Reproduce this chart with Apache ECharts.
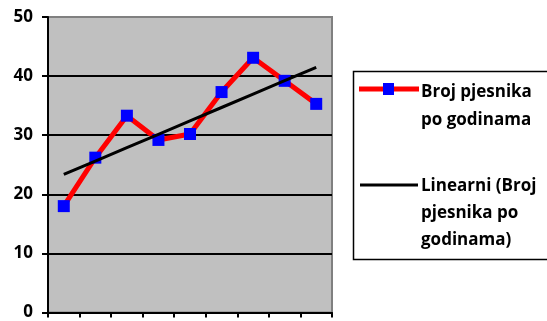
<!DOCTYPE html>
<html><head><meta charset="utf-8">
<script src="https://cdn.jsdelivr.net/npm/echarts@6/dist/echarts.min.js"></script>
<style>html,body{margin:0;padding:0;background:#fff}#c{width:547px;height:321px}</style>
</head><body><div id="c"></div>
<script>
var categories = ['1','2','3','4','5','6','7','8','9'];
var poetCounts = [18, 26.2, 33.3, 29.2, 30.2, 37.3, 43.1, 39.2, 35.3];
var yTicks = [0, 10, 20, 30, 40, 50];
var seriesName = 'Broj pjesnika po godinama';
var trendName = 'Linearni (Broj pjesnika po godinama)';

// least-squares linear trend computed from the data
var n = poetCounts.length, sx = 0, sy = 0, sxy = 0, sxx = 0;
poetCounts.forEach(function (v, i) { var x = i + 1; sx += x; sy += v; sxy += x * v; sxx += x * x; });
var slope = (n * sxy - sx * sy) / (n * sxx - sx * sx);
var icpt = (sy - slope * sx) / n;
var trend = poetCounts.map(function (v, i) { return +(icpt + slope * (i + 1)).toFixed(3); });

var FONT = '"Open Sans"';
var chart = echarts.init(document.getElementById('c'), null, {renderer: 'canvas'});
chart.setOption({
  animation: false,
  grid: {left: 48, right: 215, top: 17, bottom: 8, show: true, backgroundColor: '#c0c0c0', borderColor: '#808080', borderWidth: 2},
  xAxis: {
    type: 'category', data: categories, boundaryGap: true,
    axisLine: {lineStyle: {color: '#000', width: 2}},
    axisTick: {show: true, length: 5, lineStyle: {color: '#000', width: 2}, alignWithLabel: false},
    axisLabel: {show: false}, splitLine: {show: false}
  },
  yAxis: {
    type: 'value', min: yTicks[0], max: yTicks[yTicks.length - 1], interval: 10,
    axisLine: {show: true, lineStyle: {color: '#000', width: 2}},
    axisTick: {show: true, length: 6, lineStyle: {color: '#000', width: 2}},
    axisLabel: {color: '#000', fontFamily: FONT, fontWeight: 'bold', fontSize: 17, margin: 15},
    splitLine: {show: true, lineStyle: {color: ['#000', '#000', '#000', '#000', '#000', '#808080'], width: 2}}
  },
  series: [
    {name: seriesName, type: 'line', data: poetCounts, symbol: 'rect', symbolSize: 12,
     lineStyle: {color: '#ff0000', width: 5}, itemStyle: {color: '#0000ff'}, z: 3},
    {name: trendName, type: 'line', data: trend, symbol: 'none',
     lineStyle: {color: '#000', width: 3}, z: 4}
  ],
  graphic: [
    {type: 'rect', shape: {x: 353.5, y: 71.5, width: 200, height: 188}, style: {fill: '#fff', stroke: '#000', lineWidth: 1.5}},
    {type: 'line', shape: {x1: 359, y1: 89, x2: 419, y2: 89}, style: {stroke: '#ff0000', lineWidth: 5}},
    {type: 'rect', shape: {x: 383, y: 83, width: 11, height: 12}, style: {fill: '#0000ff'}},
    {type: 'text', x: 421, y: 78, style: {text: 'Broj pjesnika\npo godinama', fill: '#000', font: 'bold 17px ' + FONT, lineHeight: 28}},
    {type: 'line', shape: {x1: 360, y1: 185, x2: 418, y2: 185}, style: {stroke: '#000', lineWidth: 3}},
    {type: 'text', x: 421, y: 173, style: {text: 'Linearni (Broj\npjesnika po\ngodinama)', fill: '#000', font: 'bold 17px ' + FONT, lineHeight: 27}}
  ]
});
</script></body></html>
